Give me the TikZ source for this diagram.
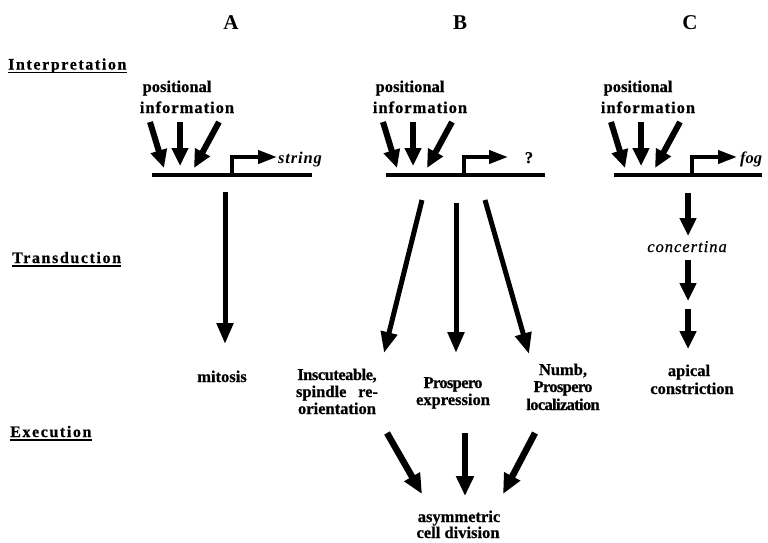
\documentclass[tikz,border=0pt]{standalone}
\usepackage{fontspec}
\setmainfont{Liberation Serif}
\usetikzlibrary{arrows.meta}
\begin{document}
\begin{tikzpicture}[x=1pt,y=-1pt,
  txt/.style={font=\bfseries\fontsize{16.5}{18}\selectfont\addfontfeatures{FakeBold=0.6}, inner sep=0pt, anchor=base},
  spc/.style={font=\bfseries\fontsize{16.5}{18}\selectfont\addfontfeatures{LetterSpace=6,FakeBold=0.6}, inner sep=0pt, anchor=base},
  itx/.style={font=\bfseries\itshape\fontsize{16.5}{18}\selectfont\addfontfeatures{LetterSpace=5}, inner sep=0pt, anchor=base},
  hdr/.style={font=\bfseries\fontsize{16}{18}\selectfont\addfontfeatures{LetterSpace=10,FakeBold=0.6}, inner sep=0pt, anchor=base west},
  col/.style={font=\bfseries\fontsize{21}{22}\selectfont, inner sep=0pt, anchor=base},
  gene/.style={line width=4.5pt},
  prom/.style={line width=4pt, line join=miter, -{Triangle[length=19pt,width=13pt]}},
  inarr/.style={line width=6pt, -{Triangle[length=18pt,width=16pt]}},
  longarr/.style={line width=5pt, -{Triangle[length=21pt,width=16pt]}},
  exarr/.style={line width=6.5pt, -{Triangle[length=20pt,width=17pt]}},
  uline/.style={line width=1.3pt}]
\useasboundingbox (0,0) rectangle (768,542);

% column headers
\node[col] (hA) at (231,29) {A};
\node[col] (hB) at (460,29) {B};
\node[col] (hC) at (690,29) {C};

% row headers
\node[hdr] (rI) at (8,69.5) {Interpretation};
\node[hdr] (rT) at (12,263) {Transduction};
\node[hdr] (rE) at (10,437) {Execution};
\draw[uline] ([yshift=-3pt]rI.base west) -- ([yshift=-3pt]rI.base east);
\draw[uline] ([yshift=-3pt]rT.base west) -- ([yshift=-3pt]rT.base east);
\draw[uline] ([yshift=-3pt]rE.base west) -- ([yshift=-3pt]rE.base east);

% ---------- column A ----------
\node[txt] (pA) at (177,92) {positional};
\node[spc] (iA) at (187,113) {information};
\coordinate (a1s) at (150,122); \coordinate (a1e) at (164,168);
\coordinate (a2s) at (180,122); \coordinate (a2e) at (180,166);
\coordinate (a3s) at (219,122); \coordinate (a3e) at (194,168);
\draw[inarr] (a1s) -- (a1e);
\draw[inarr] (a2s) -- (a2e);
\draw[inarr] (a3s) -- (a3e);
\coordinate (gAl) at (152,175); \coordinate (gAr) at (312,175);
\draw[gene] (gAl) -- (gAr);
\coordinate (pAb) at (232,175); \coordinate (pAt) at (232,157); \coordinate (pAe) at (277,157);
\draw[prom] (pAb) -- (pAt) -- (pAe);
\node[itx, anchor=base west] (sA) at (278,163) {string};
\coordinate (dAs) at (225,192); \coordinate (dAe) at (225,344);
\draw[longarr] (dAs) -- (dAe);
\node[txt] (mA) at (222,382) {mitosis};

% ---------- column B ----------
\node[txt] (pB) at (410,92) {positional};
\node[spc] (iB) at (420,113) {information};
\coordinate (b1s) at (383,122); \coordinate (b1e) at (397,168);
\coordinate (b2s) at (413,122); \coordinate (b2e) at (413,166);
\coordinate (b3s) at (452,122); \coordinate (b3e) at (427,168);
\draw[inarr] (b1s) -- (b1e);
\draw[inarr] (b2s) -- (b2e);
\draw[inarr] (b3s) -- (b3e);
\coordinate (gBl) at (386,175); \coordinate (gBr) at (545,175);
\draw[gene] (gBl) -- (gBr);
\coordinate (pBb) at (464,175); \coordinate (pBt) at (464,157); \coordinate (pBe) at (508,157);
\draw[prom] (pBb) -- (pBt) -- (pBe);
\node[txt] (qB) at (529,163) {?};
\coordinate (t1s) at (422,200); \coordinate (t1e) at (384,353);
\coordinate (t2s) at (456,203); \coordinate (t2e) at (456,353);
\coordinate (t3s) at (485,200); \coordinate (t3e) at (529,354);
\draw[longarr] (t1s) -- (t1e);
\draw[longarr] (t2s) -- (t2e);
\draw[longarr] (t3s) -- (t3e);
\node[txt, font=\bfseries\fontsize{16.5}{18}\selectfont\addfontfeatures{LetterSpace=-3,FakeBold=0.6}] (x1a) at (337,380) {Inscuteable,};
\node[txt] (x1b) at (337,397) {\makebox[82pt][s]{spindle re-}};
\node[txt] (x1c) at (337,414) {orientation};
\node[txt, font=\bfseries\fontsize{16.5}{18}\selectfont\addfontfeatures{LetterSpace=-4,FakeBold=0.6}] (x2a) at (453,388) {Prospero};
\node[txt] (x2b) at (453,405) {expression};
\node[txt] (x3a) at (563,375) {Numb,};
\node[txt, font=\bfseries\fontsize{16.5}{18}\selectfont\addfontfeatures{LetterSpace=-4,FakeBold=0.6}] (x3b) at (563,392) {Prospero};
\node[txt, font=\bfseries\fontsize{16.5}{18}\selectfont\addfontfeatures{LetterSpace=-4,FakeBold=0.6}] (x3c) at (563,410) {localization};
\coordinate (e1s) at (387,433); \coordinate (e1e) at (422,494);
\coordinate (e2s) at (465,433); \coordinate (e2e) at (465,496);
\coordinate (e3s) at (535,433); \coordinate (e3e) at (503,494);
\draw[exarr] (e1s) -- (e1e);
\draw[exarr] (e2s) -- (e2e);
\draw[exarr] (e3s) -- (e3e);
\node[txt] (asA) at (459,522) {asymmetric};
\node[txt] (asB) at (458,538) {cell division};

% ---------- column C ----------
\node[txt] (pC) at (638,92) {positional};
\node[spc] (iC) at (648,113) {information};
\coordinate (c1s) at (611,122); \coordinate (c1e) at (625,168);
\coordinate (c2s) at (641,122); \coordinate (c2e) at (641,166);
\coordinate (c3s) at (680,122); \coordinate (c3e) at (655,168);
\draw[inarr] (c1s) -- (c1e);
\draw[inarr] (c2s) -- (c2e);
\draw[inarr] (c3s) -- (c3e);
\coordinate (gCl) at (614,175); \coordinate (gCr) at (762,175);
\draw[gene] (gCl) -- (gCr);
\coordinate (pCb) at (692,175); \coordinate (pCt) at (692,157); \coordinate (pCe) at (737,157);
\draw[prom] (pCb) -- (pCt) -- (pCe);
\node[itx, anchor=base west, font=\bfseries\itshape\fontsize{16.5}{18}\selectfont] (fC) at (740,163) {fog};
\coordinate (k1s) at (688,193); \coordinate (k1e) at (688,236);
\draw[inarr] (k1s) -- (k1e);
\node[itx, font=\itshape\fontsize{16.5}{18}\selectfont\addfontfeatures{LetterSpace=6,FakeBold=0.8}] (cC) at (687,252) {concertina};
\coordinate (k2s) at (688,260); \coordinate (k2e) at (688,301);
\coordinate (k3s) at (688,309); \coordinate (k3e) at (688,349);
\draw[inarr] (k2s) -- (k2e);
\draw[inarr] (k3s) -- (k3e);
\node[txt] (apC) at (689,376) {apical};
\node[txt] (coC) at (692,394) {constriction};
\end{tikzpicture}
\end{document}
